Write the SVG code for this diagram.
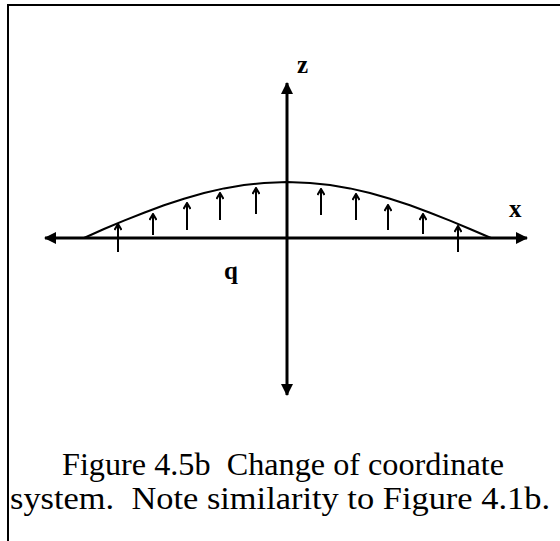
<svg xmlns="http://www.w3.org/2000/svg" width="560" height="541" viewBox="0 0 560 541">
<style>
.axis{stroke:#000;stroke-width:3;fill:none}
.load{stroke:#000;stroke-width:2;fill:none}
.lbl{font-family:"Liberation Serif",serif;font-weight:bold;fill:#000;font-size:25px}
.cap{font-family:"Liberation Serif",serif;font-size:32px;fill:#000}
</style>
<defs>
<marker id="big" viewBox="0 0 12 12" refX="11" refY="6" markerWidth="12" markerHeight="12" markerUnits="userSpaceOnUse" orient="auto">
<path d="M0,0 L12,6 L0,12 Z" fill="#000"/>
</marker>
<marker id="small" viewBox="0 0 8 8" refX="7" refY="4" markerWidth="8" markerHeight="8" markerUnits="userSpaceOnUse" orient="auto">
<path d="M1,0.5 L7,4 L1,7.5" fill="none" stroke="#000" stroke-width="2"/>
</marker>
</defs>
<rect width="560" height="541" fill="#fff"/>
<g id="frame">
<path d="M8,541 V5 H560" stroke="#000" stroke-width="2" fill="none"/>
</g>
<g id="connectors">
<line class="axis" x1="287" y1="238" x2="45" y2="238" marker-end="url(#big)"/>
<line class="axis" x1="287" y1="238" x2="527" y2="238" marker-end="url(#big)"/>
<line class="axis" x1="287" y1="238" x2="287" y2="83" marker-end="url(#big)"/>
<line class="axis" x1="287" y1="238" x2="287" y2="395" marker-end="url(#big)"/>
</g>
<g id="curve">
<polyline class="load" points="84,238 104,229 124,220.6 144,212.7 164,205.3 184,198.7 204,193 224,188.4 244,185 264,182.9 287,182 310,182.9 330,185 350,188.4 370,193 390,198.7 410,205.3 430,212.7 450,220.6 470,229 491,238"/>
</g>
<g id="loads">
<line class="load" x1="118" y1="252" x2="118" y2="224" marker-end="url(#small)"/>
<line class="load" x1="153" y1="235" x2="153" y2="214" marker-end="url(#small)"/>
<line class="load" x1="187" y1="230" x2="187" y2="203" marker-end="url(#small)"/>
<line class="load" x1="220" y1="220" x2="220" y2="193" marker-end="url(#small)"/>
<line class="load" x1="256" y1="214" x2="256" y2="188" marker-end="url(#small)"/>
<line class="load" x1="321" y1="215" x2="321" y2="189" stroke-width="3" marker-end="url(#small)"/>
<line class="load" x1="356" y1="220" x2="356" y2="194" marker-end="url(#small)"/>
<line class="load" x1="388" y1="230" x2="388" y2="205" marker-end="url(#small)"/>
<line class="load" x1="423" y1="234" x2="423" y2="214" marker-end="url(#small)"/>
<line class="load" x1="458" y1="252" x2="458" y2="226" marker-end="url(#small)"/>
</g>
<g id="labels">
<text class="lbl" x="297" y="73">z</text>
<text class="lbl" x="509" y="217">x</text>
<text class="lbl" x="224" y="279">q</text>
</g>
<g id="caption">
<text class="cap" x="62" y="475" textLength="442" lengthAdjust="spacingAndGlyphs" xml:space="preserve">Figure 4.5b  Change of coordinate</text>
<text class="cap" x="10" y="509" textLength="540" lengthAdjust="spacingAndGlyphs" xml:space="preserve">system.  Note similarity to Figure 4.1b.</text>
</g>
</svg>
